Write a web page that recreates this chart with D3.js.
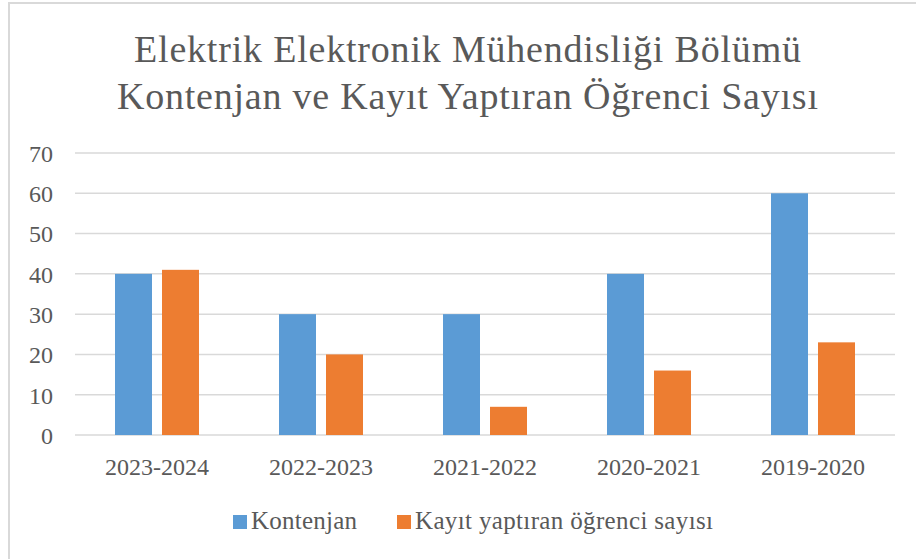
<!DOCTYPE html>
<html>
<head>
<meta charset="utf-8">
<script src="https://d3js.org/d3.v7.min.js"></script>
<style>
  body { margin: 0; background: #fff; }
  text { font-family: "Liberation Serif", "Times New Roman", serif; fill: #595959; }
</style>
</head>
<body>
<script>
// veriler
var categories = ["2023-2024", "2022-2023", "2021-2022", "2020-2021", "2019-2020"];
var seriesNames = ["Kontenjan", "Kayıt yaptıran öğrenci sayısı"];
var kontenjan = [40, 30, 30, 40, 60];
var kayit = [41, 20, 7, 16, 23];
var yTicks = [0, 10, 20, 30, 40, 50, 60, 70];
var titleLines = ["Elektrik Elektronik Mühendisliği Bölümü", "Kontenjan ve Kayıt Yaptıran Öğrenci Sayısı"];
var colors = ["#5b9bd5", "#ed7d31"];

var width = 916, height = 559;
var plot = { left: 75, right: 895, top: 153, bottom: 435 };

var svg = d3.select("body").append("svg")
    .attr("width", width)
    .attr("height", height);

// çerçeve
svg.append("rect")
    .attr("x", 9).attr("y", 3)
    .attr("width", width + 20).attr("height", height + 20)
    .attr("fill", "none")
    .attr("stroke", "#d9d9d9")
    .attr("stroke-width", 2);

// başlık
var titleSpan = [[134, 801], [117, 818]];
svg.append("g").selectAll("text")
    .data(titleLines)
    .join("text")
    .attr("x", function (d, i) { return titleSpan[i][0]; })
    .attr("y", function (d, i) { return 62 + i * 47; })
    .attr("textLength", function (d, i) { return titleSpan[i][1] - titleSpan[i][0]; })
    .attr("lengthAdjust", "spacing")
    .style("font-size", "38px")
    .text(function (d) { return d; });

var y = d3.scaleLinear().domain([0, 70]).range([plot.bottom, plot.top]);
var x0 = d3.scaleBand().domain(categories).range([plot.left, plot.right]);
var x1 = d3.scaleBand().domain(seriesNames)
    .range([40, x0.bandwidth() - 40])
    .paddingInner(10 / 47);

// ızgara çizgileri
svg.append("g").selectAll("line")
    .data(yTicks)
    .join("line")
    .attr("x1", plot.left).attr("x2", plot.right)
    .attr("y1", function (d) { return y(d); })
    .attr("y2", function (d) { return y(d); })
    .attr("stroke", "#d9d9d9")
    .attr("stroke-width", 1.5);

// y ekseni
var yAxis = svg.append("g")
    .attr("transform", "translate(53,0)")
    .call(d3.axisLeft(y).tickValues(yTicks).tickSize(0).tickPadding(0));
yAxis.select(".domain").remove();
yAxis.selectAll("text")
    .attr("dy", "0.35em")
    .style("font-size", "24px")
    .style("font-family", null);

// x ekseni
var xAxis = svg.append("g")
    .attr("transform", "translate(0," + plot.bottom + ")")
    .call(d3.axisBottom(x0).tickSize(0).tickPadding(0));
xAxis.select(".domain").remove();
xAxis.selectAll("text")
    .attr("y", 32)
    .attr("dy", "0.35em")
    .style("font-size", "24px")
    .style("font-family", null);

// çubuklar
var rows = categories.map(function (c, i) {
    return { cat: c, values: [kontenjan[i], kayit[i]] };
});

var groups = svg.append("g").selectAll("g")
    .data(rows)
    .join("g")
    .attr("transform", function (d) { return "translate(" + x0(d.cat) + ",0)"; });

groups.selectAll("rect")
    .data(function (d) { return d.values.map(function (v, j) { return { name: seriesNames[j], value: v, j: j }; }); })
    .join("rect")
    .attr("x", function (d) { return x1(d.name); })
    .attr("width", x1.bandwidth())
    .attr("y", function (d) { return y(d.value); })
    .attr("height", function (d) { return y(0) - y(d.value); })
    .attr("fill", function (d) { return colors[d.j]; });

// lejant
var legendX = [233, 397];
var legendLen = [106, 298];
var legend = svg.append("g").selectAll("g")
    .data(seriesNames)
    .join("g")
    .attr("transform", function (d, i) { return "translate(" + legendX[i] + ",515)"; });

legend.append("rect")
    .attr("width", 14).attr("height", 14)
    .attr("fill", function (d, i) { return colors[i]; });

legend.append("text")
    .attr("x", 18).attr("y", 14)
    .attr("textLength", function (d, i) { return legendLen[i]; })
    .attr("lengthAdjust", "spacing")
    .style("font-size", "25px")
    .text(function (d) { return d; });
</script>
</body>
</html>
